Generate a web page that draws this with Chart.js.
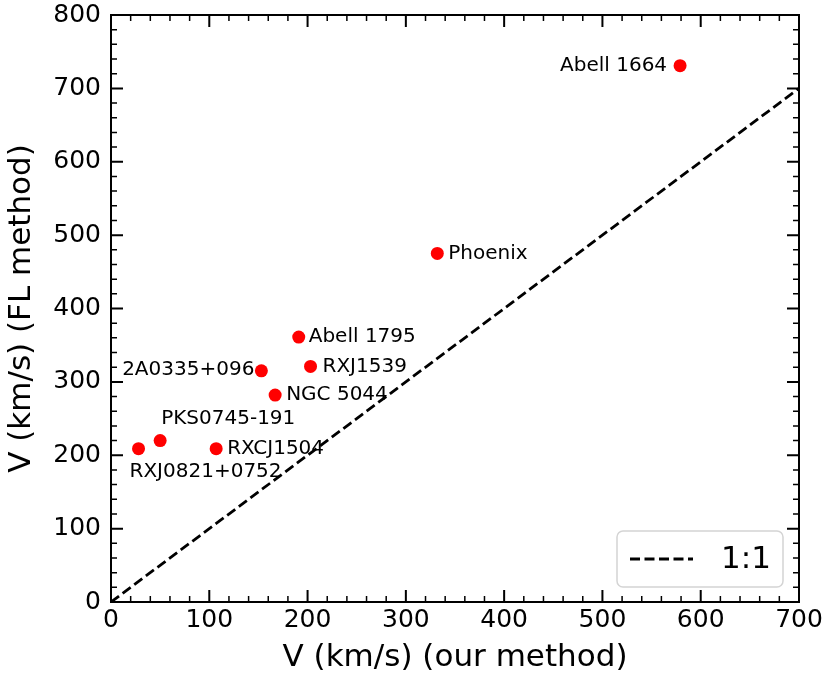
<!DOCTYPE html>
<html>
<head>
<meta charset="utf-8">
<script src="https://cdn.jsdelivr.net/npm/chart.js@4"></script>
<style>
  body { margin: 0; background: #fff; }
  canvas { display: block; }
</style>
</head>
<body>
<canvas id="velChart" width="828" height="677"></canvas>
<script>
// cluster names and velocities (km/s)
const clusters = ["RXJ0821+0752", "PKS0745-191", "RXCJ1504", "2A0335+096", "NGC 5044",
                  "Abell 1795", "RXJ1539", "Phoenix", "Abell 1664"];
const vOurs = [28, 50, 107, 153, 167, 191, 203, 332, 579];
const vFL   = [209, 220, 209, 315, 282, 361, 321, 475, 731];

// 1:1 reference line
const oneToOneX = [0, 700];
const oneToOneY = [0, 700];

const xTicks = [0, 100, 200, 300, 400, 500, 600, 700];
const yTicks = [0, 100, 200, 300, 400, 500, 600, 700, 800];

// label placement relative to the point: [dx, dy, align]
const labelPlacement = [
  [-9, 23, "left"], [1, -22, "left"], [11, 0, "left"], [-7, -1, "right"], [11, 0, "left"],
  [10, 0, "left"], [12, 0, "left"], [11, 0, "left"], [-13, 0, "right"]
];

const FONT = "'DejaVu Sans', sans-serif";

const decorations = {
  id: 'decorations',
  afterDraw(chart) {
    const ctx = chart.ctx;
    const xs = chart.scales.x, ys = chart.scales.y;
    const a = chart.chartArea;
    ctx.save();
    ctx.strokeStyle = '#000';
    ctx.lineCap = 'butt';

    // inward ticks on all four sides
    const tick = (v, major, horiz) => {
      const len = major ? 12 : 6;
      ctx.lineWidth = major ? 2 : 1.5;
      ctx.beginPath();
      if (horiz) {
        const p = xs.getPixelForValue(v);
        ctx.moveTo(p, a.bottom); ctx.lineTo(p, a.bottom - len);
        ctx.moveTo(p, a.top); ctx.lineTo(p, a.top + len);
      } else {
        const p = ys.getPixelForValue(v);
        ctx.moveTo(a.left, p); ctx.lineTo(a.left + len, p);
        ctx.moveTo(a.right, p); ctx.lineTo(a.right - len, p);
      }
      ctx.stroke();
    };
    for (let v = xs.min; v <= xs.max; v += 20) tick(v, v % 100 === 0, true);
    for (let v = ys.min; v <= ys.max; v += 20) tick(v, v % 100 === 0, false);

    // frame
    ctx.lineWidth = 2;
    ctx.strokeRect(a.left, a.top, a.right - a.left, a.bottom - a.top);

    // point labels
    const meta = chart.getDatasetMeta(1);
    ctx.fillStyle = '#000';
    ctx.font = '20px ' + FONT;
    ctx.textBaseline = 'middle';
    meta.data.forEach((pt, i) => {
      const [dx, dy, align] = labelPlacement[i];
      ctx.textAlign = align;
      ctx.fillText(clusters[i], pt.x + dx, pt.y + dy);
    });

    // legend box
    const lx = a.right - 182, ly = a.bottom - 71, lw = 166, lh = 56;
    ctx.beginPath();
    ctx.roundRect(lx, ly, lw, lh, 6);
    ctx.fillStyle = 'rgba(255,255,255,0.8)';
    ctx.fill();
    ctx.strokeStyle = '#d4d4d4';
    ctx.lineWidth = 1.5;
    ctx.stroke();
    const ds = chart.data.datasets[0];
    ctx.strokeStyle = ds.borderColor;
    ctx.lineWidth = ds.borderWidth;
    ctx.setLineDash(ds.borderDash);
    ctx.beginPath();
    ctx.moveTo(lx + 13, ly + lh / 2);
    ctx.lineTo(lx + 76, ly + lh / 2);
    ctx.stroke();
    ctx.setLineDash([]);
    ctx.fillStyle = '#000';
    ctx.font = '31px ' + FONT;
    ctx.textAlign = 'left';
    ctx.fillText(ds.label, lx + 104, ly + lh / 2 + 1);
    ctx.restore();
  }
};

new Chart(document.getElementById('velChart'), {
  type: 'scatter',
  data: {
    datasets: [
      {
        label: '1:1',
        type: 'line',
        data: oneToOneX.map((x, i) => ({ x: x, y: oneToOneY[i] })),
        borderColor: '#000',
        borderWidth: 2.8,
        borderDash: [10, 4.5],
        pointRadius: 0,
        fill: false,
        order: 2
      },
      {
        label: 'clusters',
        data: vOurs.map((x, i) => ({ x: x, y: vFL[i] })),
        backgroundColor: '#ff0000',
        borderColor: '#ff0000',
        borderWidth: 0,
        pointRadius: 6.5,
        order: 1
      }
    ]
  },
  options: {
    responsive: false,
    animation: false,
    layout: { padding: { top: 15, right: 29, left: 0, bottom: 0 } },
    plugins: {
      legend: { display: false },
      tooltip: { enabled: false }
    },
    scales: {
      x: {
        type: 'linear',
        min: 0, max: 700,
        afterBuildTicks: s => { s.ticks = xTicks.map(v => ({ value: v })); },
        afterFit: s => { s.height = 75; s.paddingLeft = 0; s.paddingRight = 0; },
        ticks: { font: { family: FONT, size: 25 }, color: '#000', padding: 3 },
        grid: { display: false, drawTicks: false },
        border: { display: false },
        title: {
          display: true,
          text: 'V (km/s) (our method)',
          font: { family: FONT, size: 31 },
          color: '#000',
          padding: { top: 0, bottom: 0 }
        }
      },
      y: {
        type: 'linear',
        min: 0, max: 800,
        afterBuildTicks: s => { s.ticks = yTicks.map(v => ({ value: v })); },
        afterFit: s => { s.width = 111; s.paddingTop = 0; s.paddingBottom = 0; },
        ticks: { font: { family: FONT, size: 25 }, color: '#000', padding: 10 },
        grid: { display: false, drawTicks: false },
        border: { display: false },
        title: {
          display: true,
          text: 'V (km/s) (FL method)',
          font: { family: FONT, size: 31 },
          color: '#000',
          padding: { top: 3, bottom: 0 }
        }
      }
    }
  },
  plugins: [decorations]
});
</script>
</body>
</html>
